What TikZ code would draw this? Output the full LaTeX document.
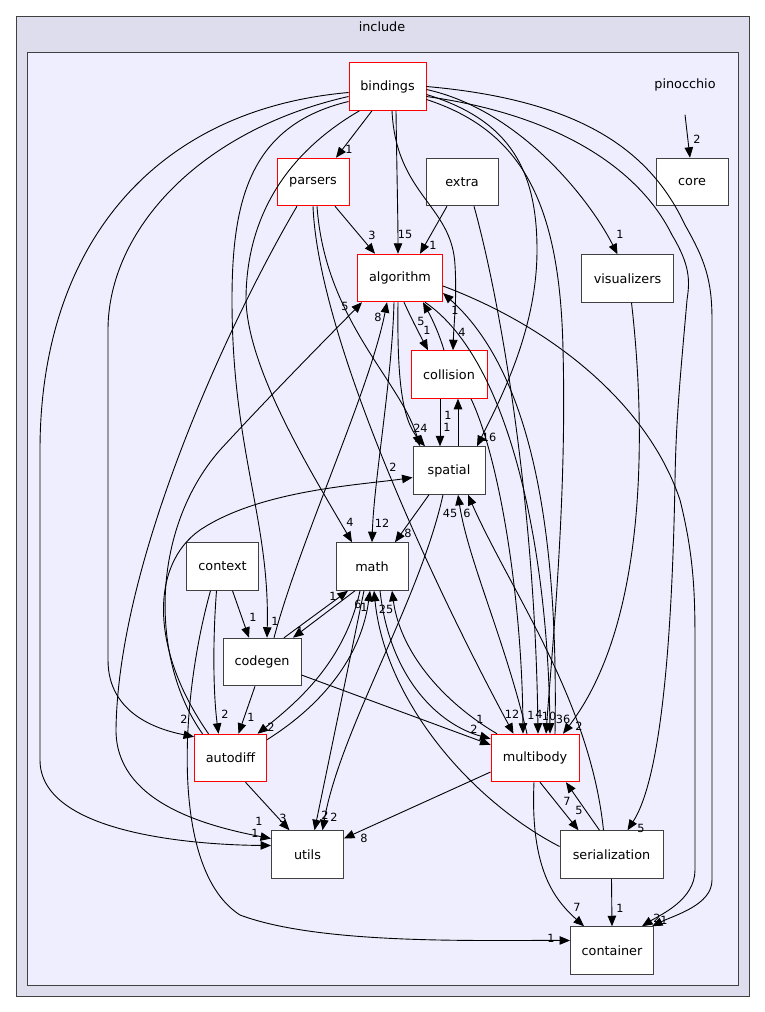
\documentclass[tikz,border=0pt]{standalone}
\usepackage{fontspec}
\setmainfont{DejaVu Sans}
\usetikzlibrary{arrows.meta}
\newcommand\ndfont{\fontsize{12.8}{15}\selectfont}
\newcommand\lbfont{\fontsize{11.3}{13}\selectfont}
\definecolor{outerfill}{HTML}{DDDDEE}
\definecolor{innerfill}{HTML}{EEEEFF}
\definecolor{frameline}{HTML}{404040}
\tikzset{
  box/.style={draw=frameline, fill=white, line width=0.9pt, minimum height=47.6pt, inner sep=0pt, font=\ndfont},
  redbox/.style={box, draw=red},
  edge/.style={draw=black, line width=0.9pt, -{Triangle[length=10.5pt,width=8.5pt]}},
  lab/.style={font=\lbfont, inner sep=0pt},
}
\begin{document}
\begin{tikzpicture}[x=1pt,y=-1pt]
\useasboundingbox (0,0) rectangle (765,1012);
\fill[white] (0,0) rectangle (765,1012);
\draw[fill=outerfill, draw=frameline, line width=1pt] (16,16) rectangle (749,996);
\draw[fill=innerfill, draw=frameline, line width=1pt] (27,52) rectangle (738,985);
\node[font=\ndfont] (includelbl) at (382,27) {include};
\node[font=\ndfont] (pinocchio) at (685,85) {pinocchio};

% nodes
\node[redbox, minimum width=77] (bindings) at (387.5,86.5) {bindings};
\node[redbox, minimum width=72] (parsers) at (313,182) {parsers};
\node[box, minimum width=72] (extra) at (462,182) {extra};
\node[box, minimum width=72] (core) at (692,182) {core};
\node[redbox, minimum width=85] (algorithm) at (400,278) {algorithm};
\node[box, minimum width=92] (visualizers) at (627.5,278.5) {visualizers};
\node[redbox, minimum width=76] (collision) at (449,374.5) {collision};
\node[box, minimum width=72] (spatial) at (449,470.5) {spatial};
\node[box, minimum width=72] (math) at (372,566.5) {math};
\node[box, minimum width=72] (context) at (222.5,566.5) {context};
\node[box, minimum width=78] (codegen) at (262,662) {codegen};
\node[redbox, minimum width=72] (autodiff) at (230.5,758) {autodiff};
\node[redbox, minimum width=88] (multibody) at (535,758) {multibody};
\node[box, minimum width=72] (utils) at (307.5,854.5) {utils};
\node[box, minimum width=103] (serialization) at (611.5,854.5) {serialization};
\node[box, minimum width=83] (container) at (612,950.5) {container};

% edges from bindings
\draw[edge] ([xshift=-15.5]bindings.south) -- ([xshift=23]parsers.north) node[lab,at={(349,149)}]{1};
\draw[edge] ([xshift=8.5]bindings.south) .. controls (397,180) and (398,220) .. ([xshift=-2]algorithm.north) node[lab,at={(405,234)}]{15};
\draw[edge] ([xshift=4.5]bindings.south) .. controls (396,195) and (452,205) .. (455,265) .. controls (457,300) and (454,320) .. ([xshift=4]collision.north) node[lab,at={(462,332)}]{4};
\draw[edge] ([yshift=-6]bindings.west) .. controls (150,110) and (40,250) .. (40,450) -- (40,760) .. controls (40,835) and (200,845) .. ([yshift=9]utils.west) node[lab,at={(255,833)}]{1};
\draw[edge] ([yshift=-10]bindings.west) .. controls (200,130) and (108,230) .. (108,330) -- (108,660) .. controls (108,715) and (160,730) .. ([yshift=-3]autodiff.north west) node[lab,at={(184,719)}]{2};
\draw[edge] ([yshift=-15]bindings.west) .. controls (250,125) and (232,200) .. (232,300) .. controls (232,450) and (270,520) .. ([xshift=5]codegen.north) node[lab,at={(275,621)}]{1};
\draw[edge] ([xshift=-28]bindings.south) .. controls (275,160) and (246,230) .. (246,300) .. controls (248,370) and (310,470) .. ([xshift=-20]math.north) node[lab,at={(350,522)}]{4};
\draw[edge] ([yshift=-8]bindings.east) .. controls (510,120) and (537,170) .. (537,250) .. controls (537,330) and (500,400) .. ([xshift=28]spatial.north) node[lab,at={(489,437)}]{16};
\draw[edge] ([yshift=-13]bindings.east) .. controls (520,130) and (560,200) .. (563,350) .. controls (567,500) and (552,650) .. ([xshift=11]multibody.north) node[lab,at={(549,716)}]{10};
\draw[edge] ([yshift=-3]bindings.east) .. controls (520,110) and (590,200) .. ([xshift=-10]visualizers.north) node[lab,at={(620,234)}]{1};
\draw[edge] ([yshift=-10]bindings.east) .. controls (560,115) and (640,170) .. (672,235) .. controls (690,265) and (690,280) .. (687,300) .. controls (680,380) and (676,420) .. (675,480) .. controls (672,650) and (660,780) .. ([xshift=16]serialization.north) node[lab,at={(641,828)}]{5};
\draw[edge] (bindings.east) .. controls (580,100) and (650,150) .. (685,225) .. controls (705,260) and (712,280) .. (712,320) -- (712,880) .. controls (712,905) and (675,915) .. ([xshift=40]container.north) node[lab,at={(664,920)}]{1};

% parsers, extra
\draw[edge] ([xshift=22]parsers.south) -- ([xshift=-25]algorithm.north) node[lab,at={(372,235)}]{3};
\draw[edge] ([xshift=4]parsers.south) .. controls (325,320) and (400,380) .. ([xshift=-29]spatial.north) node[lab,at={(417,428)}]{2};
\draw[edge] (parsers.south) .. controls (318,330) and (420,560) .. ([xshift=-21.5]multibody.north) node[lab,at={(512,714)}]{12};
\draw[edge] ([xshift=-16]parsers.south) .. controls (230,320) and (118,560) .. (116,730) .. controls (116,800) and (200,825) .. ([yshift=16]utils.west) node[lab,at={(259,821)}]{1};
\draw[edge] ([xshift=-15]extra.south) -- ([xshift=20]algorithm.north) node[lab,at={(433,245)}]{1};
\draw[edge] ([xshift=12]extra.south) .. controls (500,300) and (535,500) .. ([xshift=3]multibody.north) node[lab,at={(539,714)}]{4};

% algorithm
\draw[edge] ([xshift=4]algorithm.south) .. controls (412,320) and (420,335) .. ([xshift=-21]collision.north) node[lab,at={(427,330)}]{1};
\draw[edge] ([xshift=-5]collision.north) .. controls (438,330) and (430,315) .. ([xshift=23]algorithm.south) node[lab,at={(421,321)}]{5};
\draw[edge] ([xshift=-6]algorithm.south) .. controls (392,380) and (374,480) .. (math.north) node[lab,at={(382,523)}]{12};
\draw[edge] ([xshift=-2]algorithm.south) .. controls (397,380) and (402,420) .. ([xshift=-24]spatial.north) node[lab,at={(424,428)}]{4};
\draw[edge] ([xshift=25]algorithm.south) .. controls (510,360) and (548,550) .. ([xshift=15]multibody.north) node[lab,at={(563,719)}]{36};
\draw[edge] ([yshift=-8]algorithm.east) .. controls (560,330) and (650,410) .. (680,500) .. controls (695,560) and (695,600) .. (695,650) -- (695,870) .. controls (695,900) and (660,915) .. ([xshift=30]container.north) node[lab,at={(657,918)}]{2};
\draw[edge] ([xshift=20]multibody.north) .. controls (558,560) and (540,380) .. ([yshift=-15]algorithm.east) node[lab,at={(455,310)}]{1};

% collision, spatial
\draw[edge] ([xshift=22]collision.south) .. controls (500,460) and (522,600) .. ([xshift=-12]multibody.north) node[lab,at={(531,715)}]{1};
\draw[edge] ([xshift=-9]collision.south) -- ([xshift=-9]spatial.north) node[lab,at={(447,427)}]{1};
\draw[edge] ([xshift=9]spatial.north) -- ([xshift=9]collision.south) node[lab,at={(448,415)}]{1};
\draw[edge] ([xshift=-20]spatial.south) -- ([xshift=23]math.north) node[lab,at={(408,533)}]{8};
\draw[edge] ([xshift=-6]spatial.south) .. controls (420,600) and (340,730) .. ([xshift=15]utils.north) node[lab,at={(334,817)}]{2};
\draw[edge] ([xshift=-8]multibody.north) .. controls (505,640) and (468,560) .. ([xshift=9]spatial.south) node[lab,at={(450,513)}]{45};
\draw[edge] ([xshift=-8]serialization.north) .. controls (590,700) and (510,590) .. ([xshift=19]spatial.south) node[lab,at={(467,513)}]{6};

% math
\draw[edge] ([xshift=-38]multibody.north) .. controls (440,700) and (400,650) .. ([xshift=20]math.south) node[lab,at={(386,609)}]{25};
\draw[edge] ([xshift=8]math.south) .. controls (390,680) and (440,725) .. ([yshift=-5]multibody.north west) node[lab,at={(480,719)}]{1};
\draw[edge] ([yshift=8]serialization.west) .. controls (470,800) and (385,700) .. ([xshift=2]math.south) node[lab,at={(364,607)}]{1};
\draw[edge] ([yshift=-6]autodiff.north east) .. controls (330,700) and (362,650) .. ([xshift=-2]math.south) node[lab,at={(358,604)}]{6};
\draw[edge] ([xshift=-12]math.south) .. controls (345,660) and (300,700) .. ([xshift=27]autodiff.north) node[lab,at={(271,727)}]{2};
\draw[edge] ([xshift=22]codegen.north) -- ([xshift=-24]math.south) node[lab,at={(333,596)}]{1};
\draw[edge] ([xshift=-17]math.south) -- ([xshift=31]codegen.north) node[lab,at={(300,631)}]{1};
\draw[edge] ([xshift=-8]math.south) -- ([xshift=7]utils.north) node[lab,at={(325,815)}]{2};

% codegen, context, autodiff
\draw[edge] ([yshift=-13]codegen.east) -- ([yshift=-11]multibody.north west) node[lab,at={(474,729)}]{2};
\draw[edge] ([xshift=-7]codegen.south) -- ([xshift=8]autodiff.north) node[lab,at={(251,717)}]{1};
\draw[edge] ([xshift=12]codegen.north) .. controls (300,540) and (370,390) .. ([xshift=-13]algorithm.south) node[lab,at={(378,317)}]{8};
\draw[edge] ([xshift=-6]context.south) .. controls (212,650) and (214,700) .. ([xshift=-12]autodiff.north) node[lab,at={(225,714)}]{2};
\draw[edge] ([xshift=10]context.south) -- ([xshift=-13]codegen.north) node[lab,at={(253,617)}]{1};
\draw[edge] ([xshift=-12]context.south) .. controls (180,700) and (170,870) .. (240,915) .. controls (320,945) and (480,940) .. ([yshift=10]container.west) node[lab,at={(551,938)}]{1};
\draw[edge] ([xshift=-28]autodiff.north) .. controls (150,660) and (150,530) .. (220,450) .. controls (280,385) and (335,330) .. ([xshift=-38]algorithm.south) node[lab,at={(345,306)}]{5};
\draw[edge] ([xshift=-22]autodiff.north) .. controls (150,650) and (150,565) .. (200,530) .. controls (260,490) and (360,485) .. ([yshift=-7]spatial.west) node[lab,at={(393,467)}]{2};
\draw[edge] ([xshift=15]autodiff.south) -- ([xshift=-18]utils.north) node[lab,at={(283,818)}]{3};

% multibody, serialization, visualizers
\draw[edge] ([yshift=-14]multibody.west) -- ([yshift=16]utils.east) node[lab,at={(364,838)}]{8};
\draw[edge] ([xshift=5]multibody.south) -- ([xshift=-33]serialization.north) node[lab,at={(579,810)}]{5};
\draw[edge] ([xshift=-12]serialization.north) -- ([xshift=31]multibody.south) node[lab,at={(567,801)}]{7};
\draw[edge] ([xshift=-1]multibody.south) .. controls (530,870) and (555,900) .. ([xshift=-28]container.north) node[lab,at={(577,907)}]{7};
\draw[edge] (serialization.south) -- (container.north) node[lab,at={(620,908)}]{1};
\draw[edge] ([xshift=4]visualizers.south) .. controls (645,420) and (650,620) .. ([xshift=28]multibody.north) node[lab,at={(579,726)}]{2};
\draw[edge] ([yshift=-20]pinocchio.south) -- ([xshift=-2]core.north) node[lab,at={(697,139)}]{2};
\end{tikzpicture}
\end{document}
